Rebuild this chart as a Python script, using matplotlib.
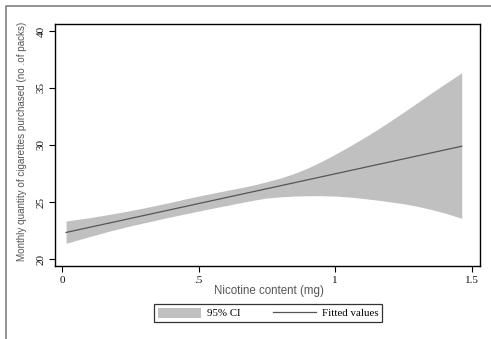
import matplotlib
matplotlib.use('Agg')
import matplotlib.pyplot as plt
from matplotlib.lines import Line2D
from matplotlib.patches import Patch

SERIF = ['Liberation Serif', 'DejaVu Serif']
SANS = ['Liberation Sans', 'DejaVu Sans']

# nicotine content (mg) with 95% CI bounds on monthly packs purchased
nicotine = [0.015, 0.05, 0.10, 0.175, 0.25, 0.325, 0.40, 0.45, 0.50, 0.55,
            0.60, 0.65, 0.70, 0.75, 0.80, 0.85, 0.90, 0.95, 1.00, 1.05,
            1.10, 1.15, 1.20, 1.25, 1.30, 1.35, 1.40, 1.464]
ci_upper = [23.33, 23.45, 23.62, 23.92, 24.24, 24.60, 24.98, 25.26, 25.52, 25.76,
            26.00, 26.23, 26.48, 26.78, 27.10, 27.50, 27.98, 28.55, 29.18, 29.85,
            30.55, 31.28, 32.06, 32.86, 33.68, 34.51, 35.32, 36.34]
ci_lower = [21.37, 21.62, 21.96, 22.45, 22.90, 23.30, 23.70, 23.95, 24.20, 24.45,
            24.68, 24.92, 25.15, 25.35, 25.45, 25.52, 25.55, 25.55, 25.52, 25.44,
            25.32, 25.18, 25.02, 24.85, 24.63, 24.36, 24.05, 23.57]

# linear fit (fitted values)
fit_x = [0.015, 1.464]
fit_y = [22.33, 29.89]

x_ticks = [0, 0.5, 1, 1.5]
x_tick_labels = ['0', '.5', '1', '1.5']
y_ticks = [20, 25, 30, 35, 40]

W, H = 491, 339
fig = plt.figure(figsize=(W / 100, H / 100), dpi=100)
ax = fig.add_axes([55 / W, 1 - 266 / H, (480 - 55) / W, (266 - 24) / H])

ax.fill_between(nicotine, ci_lower, ci_upper, color='#c0c0c0', lw=0)
ax.plot(fit_x, fit_y, color='#555555', lw=0.9)

ax.set_xlim(-0.0256, 1.531)
ax.set_ylim(19.386, 40.614)
ax.set_xticks(x_ticks)
ax.set_xticklabels(x_tick_labels)
ax.set_yticks(y_ticks)
ax.set_yticklabels([str(v) for v in y_ticks], rotation=90, va='center')

for lab in ax.get_xticklabels() + ax.get_yticklabels():
    lab.set_fontfamily(SERIF)
    lab.set_fontsize(8)
    lab.set_color('#111111')
ax.tick_params(direction='out', length=4, width=0.8, color='black', pad=3)
for sp in ax.spines.values():
    sp.set_linewidth(1.0)
    sp.set_color('black')

fig.text(269 / W, 1 - 291 / H, 'Nicotine content (mg)', ha='center', va='center',
         fontsize=8.3, color='#555555', family=SANS)
fig.text(22 / W, 1 - 141 / H, 'Monthly quantity of cigarettes purchased (no .of packs)',
         rotation=90, ha='center', va='center', fontsize=7.1, color='#555555', family=SANS)

handles = [Patch(facecolor='#c0c0c0', edgecolor='none', label='95% CI'),
           Line2D([], [], color='#555555', lw=0.9, label='Fitted values')]
leg = fig.legend(handles=handles, loc='center', ncol=2,
                 bbox_to_anchor=(268 / W, 1 - 313 / H), bbox_transform=fig.transFigure,
                 prop={'family': SERIF, 'size': 7.8}, frameon=True, fancybox=False,
                 edgecolor='black', handlelength=4.0, handleheight=1.1,
                 handletextpad=0.5, columnspacing=3.0, borderpad=0.35,
                 borderaxespad=0)
leg.get_frame().set_linewidth(0.9)

# light grey frame around the graph region
fig.add_artist(Line2D([5.7 / W, 5.7 / W, 1], [0, 1 - 5.7 / H, 1 - 5.7 / H],
                      transform=fig.transFigure, color='#8a8a8a', lw=1.3))

fig.savefig('out.png', dpi=100)
